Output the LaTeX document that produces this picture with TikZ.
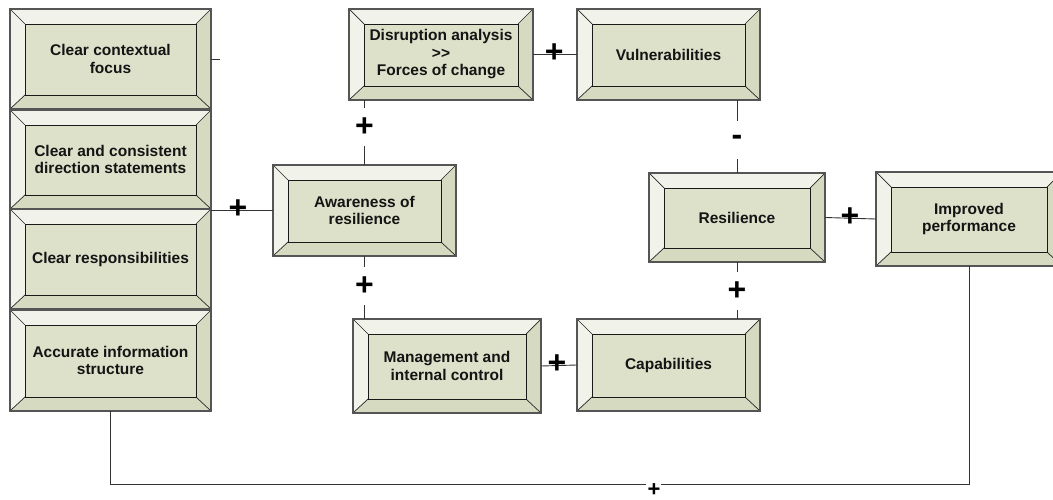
\documentclass[tikz,border=0pt]{standalone}
\usepackage{fontspec}
\setmainfont{Liberation Sans}
\usetikzlibrary{calc}
\definecolor{bvface}{HTML}{DDE1CA}
\definecolor{bvlight}{HTML}{F1F3EA}
\definecolor{bvdark}{HTML}{D6DAC1}
\definecolor{bvline}{HTML}{555555}
\newcommand\bevbox[6]{%
  \fill[bvface] (#2,#3) rectangle (#4,#5);
  \fill[bvlight] (#2,#3) -- (#4,#3) -- ({#4-15},{#3+15}) -- ({#2+15},{#3+15}) -- ({#2+15},{#5-14}) -- (#2,#5) -- cycle;
  \fill[bvdark] (#4,#3) -- (#4,#5) -- (#2,#5) -- ({#2+15},{#5-14}) -- ({#4-15},{#5-14}) -- ({#4-15},{#3+15}) -- cycle;
  \fill[bvface] ({#2+15},{#3+15}) rectangle ({#4-15},{#5-14});
  \draw[bvdiag] (#2,#3) -- ({#2+15},{#3+15});
  \draw[bvdiag] (#4,#3) -- ({#4-15},{#3+15});
  \draw[bvdiag] (#2,#5) -- ({#2+15},{#5-14});
  \draw[bvdiag] (#4,#5) -- ({#4-15},{#5-14});
  \draw[bvinner] ({#2+15},{#3+15}) rectangle ({#4-15},{#5-14});
  \draw[bvouter] (#2,#3) rectangle (#4,#5);
  \node[boxtext, minimum width={#4-#2}, minimum height={#5-#3}] (#1) at ({(#2+#4)/2},{(#3+#5)/2}) {#6};
}
\begin{document}
\begin{tikzpicture}[x=1pt,y=-1pt,
  bvdiag/.style={draw=black!85, line width=0.7pt},
  bvinner/.style={draw=black!90, line width=0.9pt},
  bvouter/.style={draw=bvline, line width=1.3pt},
  boxtext/.style={inner sep=0pt, align=center, font=\fontsize{15.5}{17.5}\selectfont\bfseries, text=black!92},
  conn/.style={draw=black!80, line width=0.9pt},
  sign/.style={font=\fontsize{32}{32}\selectfont\bfseries, inner sep=0pt, text=black},
  vgap/.style={sign, fill=white, minimum height=38pt, minimum width=20pt},
  smallsign/.style={font=\fontsize{22}{22}\selectfont\bfseries, inner sep=0pt}]
\clip (0,0) rectangle (1053,500);
\fill[white] (0,0) rectangle (1053,500);
% left column
\bevbox{b1}{10}{9}{211}{109}{Clear contextual\\focus}
\bevbox{b2}{10}{110}{211}{209}{Clear and consistent\\direction statements}
\bevbox{b3}{10}{209}{211}{309}{Clear responsibilities}
\bevbox{b4}{10}{310}{211}{411}{Accurate information\\structure}
% middle and right
\bevbox{disr}{349}{9}{533}{100}{Disruption analysis\\>\kern0pt>\\Forces of change}
\bevbox{vuln}{577}{9}{760}{100}{Vulnerabilities}
\bevbox{aware}{273}{165}{456}{256}{Awareness of\\resilience}
\bevbox{res}{649}{173}{825}{262}{Resilience}
\bevbox{imp}{876}{172}{1062}{266}{Improved\\performance}
\bevbox{mgmt}{353}{319}{541}{413}{Management and\\internal control}
\bevbox{cap}{577}{319}{760}{411}{Capabilities}
% connectors
\draw[conn] (b1.east) -- ++(9,0);
\draw[conn] (aware.west) -- node[sign, pos=0.565, yshift=1pt] {+} (aware.west -| b2.east);
\draw[conn] (disr.east) -- node[sign, pos=0.48, yshift=1pt] {+} (vuln.west);
\draw[conn] (mgmt.east) -- node[sign, pos=0.44, yshift=1pt] {+} (cap.west);
\draw[conn] (res.east) -- node[sign, pos=0.49, yshift=1pt] {+} (imp.west);
\draw[conn] (aware.north) -- node[vgap, pos=0.585] {+} (aware.north |- disr.south);
\draw[conn] (aware.south) -- node[vgap, pos=0.476] {+} (aware.south |- mgmt.north);
\draw[conn] (res.north) -- node[vgap, pos=0.49, yshift=-3pt] {-} (res.north |- vuln.south);
\draw[conn] (res.south) -- node[vgap, pos=0.51] {+} (res.south |- cap.north);
\coordinate (bot) at (0,484);
\draw[conn] (b4.south) -- (b4.south |- bot) -- (imp.south |- bot) -- (imp.south);
\fill[white] ($(b4.south |- bot)!0.633!(imp.south |- bot) + (-7.5,-2)$) rectangle ++(15,4);
\node[smallsign] (botplus) at ($(b4.south |- bot)!0.633!(imp.south |- bot) + (0,6.5)$) {+};
\end{tikzpicture}
\end{document}
